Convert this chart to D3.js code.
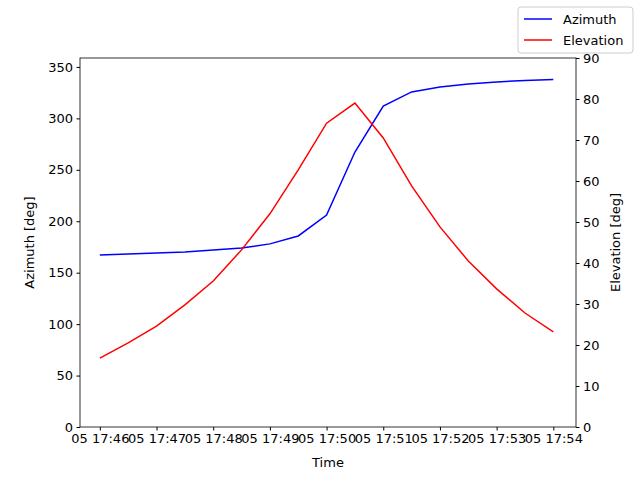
<!DOCTYPE html>
<html><head><meta charset="utf-8">
<script src="https://cdn.jsdelivr.net/npm/d3@7"></script>
<style>body{margin:0;background:#fff}text{font-family:"DejaVu Sans",sans-serif;font-size:13px}</style>
</head><body><svg id="c" width="640" height="480"></svg>
<script>
// data: samples every 30 s starting 17:46
const startMin = 46;
const azimuth = [167.2,168.2,169.2,170.1,172.1,174,178,185.7,206,267.3,312,325.7,330.5,333.5,335.4,336.9,337.9];
const elevation = [16.8,20.5,24.6,29.8,35.6,43.2,52,62.7,74.1,79,70.5,58.8,48.8,40.5,33.7,27.8,23.2];
const times = azimuth.map((_, i) => startMin + i * 0.5);
const tickMins = [46,47,48,49,50,51,52,53,54];

const svg = d3.select('#c');
const L = 80, R = 576, T = 58, B = 427;
const x = d3.scaleLinear().domain([45.65, 54.4]).range([L, R]);
const yA = d3.scaleLinear().domain([0, 358.7]).range([B, T]);
const yE = d3.scaleLinear().domain([0, 90]).range([B, T]);

const fmt = m => '05 17:' + String(m).padStart(2, '0');
svg.append('g').attr('transform', `translate(0,${B})`)
  .call(d3.axisBottom(x).tickValues(tickMins).tickFormat(fmt).tickSize(3.5).tickPadding(3.5));
svg.append('g').attr('transform', `translate(${L},0)`)
  .call(d3.axisLeft(yA).tickValues(d3.range(0, 351, 50)).tickSize(3.5).tickPadding(3.5));
svg.append('g').attr('transform', `translate(${R},0)`)
  .call(d3.axisRight(yE).tickValues(d3.range(0, 91, 10)).tickSize(3.5).tickPadding(3.5));
svg.selectAll('.domain').remove();
svg.selectAll('.tick text').style('font-size', '13px').attr('fill', '#000');
svg.selectAll('.tick line').attr('stroke', '#000');
svg.append('rect').attr('x', L).attr('y', T).attr('width', R - L).attr('height', B - T)
  .attr('fill', 'none').attr('stroke', '#000').attr('stroke-width', 0.8);

svg.append('path').datum(azimuth)
  .attr('d', d3.line().x((d, i) => x(times[i])).y(d => yA(d)))
  .attr('fill', 'none').attr('stroke', 'blue').attr('stroke-width', 1.5);
svg.append('path').datum(elevation)
  .attr('d', d3.line().x((d, i) => x(times[i])).y(d => yE(d)))
  .attr('fill', 'none').attr('stroke', 'red').attr('stroke-width', 1.5);

svg.append('text').attr('x', (L + R) / 2).attr('y', 467).attr('text-anchor', 'middle').text('Time');
svg.append('text').attr('transform', `translate(34,${(T + B) / 2}) rotate(-90)`).attr('text-anchor', 'middle').text('Azimuth [deg]');
svg.append('text').attr('transform', `translate(620,${(T + B) / 2}) rotate(-90)`).attr('text-anchor', 'middle').text('Elevation [deg]');

// legend
const lg = svg.append('g');
lg.append('rect').attr('x', 518).attr('y', 7).attr('width', 115).attr('height', 46).attr('rx', 3)
  .attr('fill', '#fff').attr('stroke', '#ccc');
[['Azimuth', 'blue'], ['Elevation', 'red']].forEach(([n, c], i) => {
  const yy = 19 + i * 21;
  lg.append('line').attr('x1', 524).attr('x2', 552).attr('y1', yy).attr('y2', yy).attr('stroke', c).attr('stroke-width', 1.5);
  lg.append('text').attr('x', 563).attr('y', yy + 4.5).text(n);
});
</script></body></html>
